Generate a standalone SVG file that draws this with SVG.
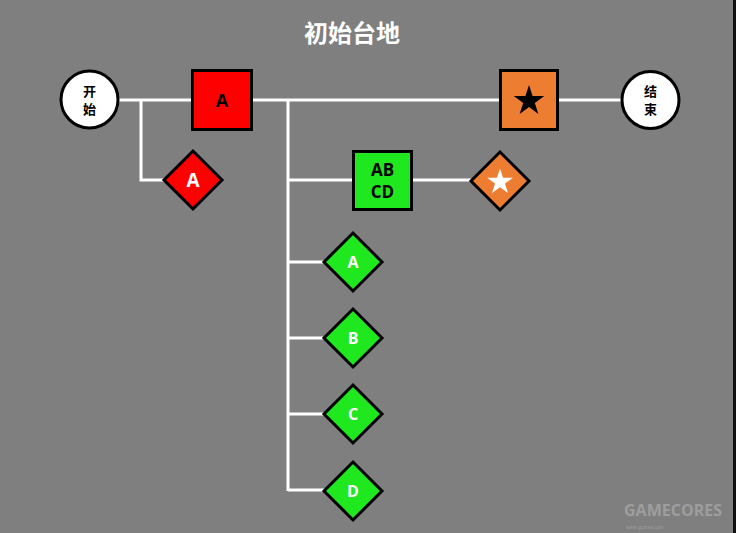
<svg xmlns="http://www.w3.org/2000/svg" xmlns:xlink="http://www.w3.org/1999/xlink" width="736" height="533" viewBox="0 0 736 533">
<style>
.bg{fill:#7f7f7f}
.conn{stroke:#ffffff;stroke-width:3;fill:none}
.node{stroke:#000;stroke-width:3}
.circ{fill:#fff}
.red{fill:#ff0000}
.green{fill:#1fe81f}
.orange{fill:#ed7d31}
.t{font-family:"Noto Sans CJK SC","Noto Sans",sans-serif;font-weight:bold;text-anchor:middle}
.lbl{font-family:"Open Sans","Liberation Sans",sans-serif;font-weight:bold;text-anchor:middle}
</style>
<defs>
<polygon id="dia" points="0,-29 29,0 0,29 -29,0"/>
<polygon id="star" points="0,-16 3.59,-4.94 15.22,-4.94 5.81,1.89 9.40,12.94 0,6.11 -9.40,12.94 -5.81,1.89 -15.22,-4.94 -3.59,-4.94"/>
</defs>
<rect class="bg" x="0" y="0" width="736" height="533"/>
<rect x="733" y="0" width="3" height="533" fill="#111"/>
<text class="t" x="352" y="42" font-size="24" fill="#fff">初始台地</text>
<g id="connectors">
<line class="conn" x1="118" y1="100" x2="621" y2="100"/>
<polyline class="conn" points="141,100 141,180 164,180"/>
<line class="conn" x1="288" y1="100" x2="288" y2="491"/>
<line class="conn" x1="288" y1="180" x2="354" y2="180"/>
<line class="conn" x1="411" y1="180" x2="471" y2="180"/>
<line class="conn" x1="288" y1="262" x2="324" y2="262"/>
<line class="conn" x1="288" y1="338" x2="324" y2="338"/>
<line class="conn" x1="288" y1="414" x2="324" y2="414"/>
<line class="conn" x1="288" y1="490" x2="324" y2="490"/>
</g>
<g id="start">
<circle class="node circ" cx="89.5" cy="99.5" r="28.5"/>
<text class="t" x="89.5" y="96" font-size="13" fill="#000">开</text>
<text class="t" x="89.5" y="114" font-size="13" fill="#000">始</text>
</g>
<g id="end">
<circle class="node circ" cx="650.5" cy="100" r="28.5"/>
<text class="t" x="650.5" y="96" font-size="13" fill="#000">结</text>
<text class="t" x="650.5" y="114" font-size="13" fill="#000">束</text>
</g>
<g id="boxA">
<rect class="node red" x="192.5" y="70.5" width="59" height="59"/>
<text class="lbl" x="222" y="107" font-size="18" fill="#000">A</text>
</g>
<g id="diaA">
<use xlink:href="#dia" class="node red" x="193" y="180"/>
<text class="lbl" x="193" y="187" font-size="19" fill="#fff">A</text>
</g>
<g id="boxStar">
<rect class="node orange" x="500.5" y="70.5" width="57" height="59"/>
<use xlink:href="#star" x="529" y="101" fill="#000"/>
</g>
<g id="boxABCD">
<rect class="node green" x="353.5" y="151.5" width="58" height="58"/>
<text class="lbl" x="382.5" y="176" font-size="17" fill="#000">AB</text>
<text class="lbl" x="382.5" y="198" font-size="17" fill="#000">CD</text>
</g>
<g id="diaStar">
<use xlink:href="#dia" class="node orange" x="500" y="181"/>
<use xlink:href="#star" x="0" y="0" fill="#fff" transform="translate(500,182) scale(0.85)"/>
</g>
<g id="diaGA">
<use xlink:href="#dia" class="node green" x="353" y="262"/>
<text class="lbl" x="353" y="268" font-size="16" fill="#fff">A</text>
</g>
<g id="diaGB">
<use xlink:href="#dia" class="node green" x="353" y="338"/>
<text class="lbl" x="353" y="344" font-size="16" fill="#fff">B</text>
</g>
<g id="diaGC">
<use xlink:href="#dia" class="node green" x="353" y="414"/>
<text class="lbl" x="353" y="420" font-size="16" fill="#fff">C</text>
</g>
<g id="diaGD">
<use xlink:href="#dia" class="node green" x="353" y="491"/>
<text class="lbl" x="353" y="497" font-size="16" fill="#fff">D</text>
</g>
<g id="watermark" fill="#a6a6a6" opacity="0.8">
<text class="lbl" x="673" y="516" font-size="16">GAMECORES</text>
<text x="626" y="529" font-size="5" font-family="Liberation Sans, sans-serif">www.gcores.com</text>
</g>
</svg>
